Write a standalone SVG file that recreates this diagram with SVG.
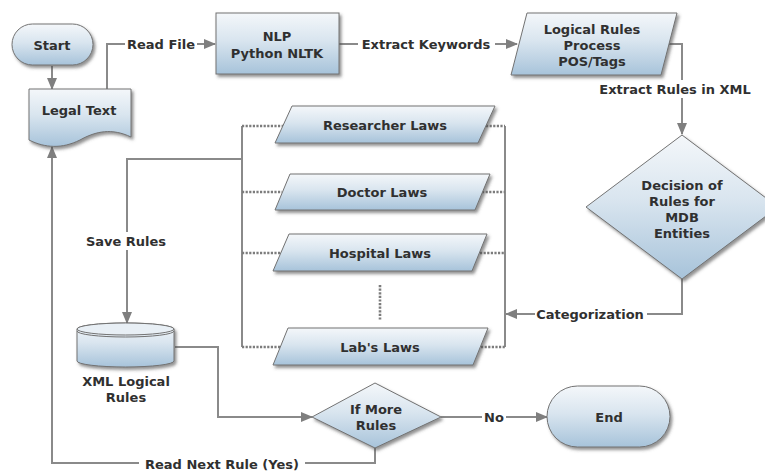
<svg xmlns="http://www.w3.org/2000/svg" width="765" height="474" viewBox="0 0 765 474">
  <defs>
    <linearGradient id="fillGrad" x1="0" y1="0" x2="0" y2="1">
      <stop offset="0" stop-color="#f4f7fa"/>
      <stop offset="0.45" stop-color="#d9e5ef"/>
      <stop offset="1" stop-color="#a7c3da"/>
    </linearGradient>
    <filter id="shadow" x="-10%" y="-10%" width="125%" height="130%">
      <feDropShadow dx="2" dy="2.5" stdDeviation="1.4" flood-color="#4a4a4a" flood-opacity="0.6"/>
    </filter>
    <marker id="arrow" markerWidth="12" markerHeight="10" refX="11" refY="5" orient="auto" markerUnits="userSpaceOnUse">
      <path d="M0,0 L12,5 L0,10 Z" fill="#7f7f7f"/>
    </marker>
    <style>
      .shape { fill: url(#fillGrad); stroke: #727272; stroke-width: 1; filter: url(#shadow); }
      .label { font-family: "DejaVu Sans", Verdana, sans-serif; font-weight: bold; font-size: 13px; fill: #303030; text-anchor: middle; dominant-baseline: central; }
      .bg { fill: #ffffff; }
      .conn { fill: none; stroke: #8a8a8a; stroke-width: 2; }
      .dots { fill: none; stroke: #7c7c7c; stroke-width: 2.6; stroke-dasharray: 2.2 1.4; }
    </style>
  </defs>

  <rect width="765" height="474" fill="#ffffff"/>

  <!-- connectors -->
  <g id="connectors">
    <path class="conn" d="M52,66 V89" marker-end="url(#arrow)"/>
    <path class="conn" d="M107,89 V44 H215" marker-end="url(#arrow)"/>
    <path class="conn" d="M339,44 H517" marker-end="url(#arrow)"/>
    <path class="conn" d="M669,44 H682 V134" marker-end="url(#arrow)"/>
    <path class="conn" d="M682,279 V314 H506" marker-end="url(#arrow)"/>
    <path class="conn" d="M242,159 H127 V323" marker-end="url(#arrow)"/>
    <path class="conn" d="M175,347 H218 V417 H312" marker-end="url(#arrow)"/>
    <path class="conn" d="M441,417 H547" marker-end="url(#arrow)"/>
    <path class="conn" d="M375,448 V463 H52 V147" marker-end="url(#arrow)"/>

    <!-- category bracket -->
    <path class="conn" d="M242,126 V347"/>
    <path class="conn" d="M505,126 V347"/>
    <path class="dots" d="M242,126 H284"/>
    <path class="dots" d="M242,192 H282"/>
    <path class="dots" d="M242,253 H281"/>
    <path class="dots" d="M242,347 H280"/>
    <path class="dots" d="M486,126 H505"/>
    <path class="dots" d="M482,192 H505"/>
    <path class="dots" d="M480,253 H505"/>
    <path class="dots" d="M481,347 H505"/>
    <path class="dots" d="M380,285 V321"/>

    <!-- edge labels on white backing -->
    <rect class="bg" x="125" y="35" width="72" height="18"/>
    <text class="label" x="161" y="44">Read File</text>
    <rect class="bg" x="358" y="35" width="137" height="18"/>
    <text class="label" x="426" y="44">Extract Keywords</text>
    <rect class="bg" x="592" y="80" width="166" height="18"/>
    <text class="label" x="675" y="89">Extract Rules in XML</text>
    <rect class="bg" x="535" y="305" width="112" height="18"/>
    <text class="label" x="590" y="314">Categorization</text>
    <rect class="bg" x="84" y="232" width="85" height="18"/>
    <text class="label" x="126" y="241">Save Rules</text>
    <rect class="bg" x="482" y="408" width="24" height="18"/>
    <text class="label" x="494" y="417">No</text>
    <rect class="bg" x="139" y="455" width="166" height="18"/>
    <text class="label" x="222" y="464">Read Next Rule (Yes)</text>
  </g>

  <g id="start">
    <rect class="shape" x="12" y="24" width="81" height="41" rx="20.5"/>
    <text class="label" x="52" y="45">Start</text>
  </g>

  <g id="legal-text">
    <path class="shape" d="M29,89 H131 V137 C112,128 96,131 80,140 C62,149 45,148 29,140 Z"/>
    <text class="label" x="79" y="110">Legal Text</text>
  </g>

  <g id="nlp">
    <rect class="shape" x="216" y="13" width="123" height="61"/>
    <text class="label" x="277" y="36">NLP</text>
    <text class="label" x="277" y="53">Python NLTK</text>
  </g>

  <g id="logical-rules">
    <path class="shape" d="M527,13 H677 L661,75 H511 Z"/>
    <text class="label" x="592" y="29">Logical Rules</text>
    <text class="label" x="592" y="45">Process</text>
    <text class="label" x="592" y="61">POS/Tags</text>
  </g>

  <g id="decision">
    <path class="shape" d="M682,135 L778,207 L682,279 L586,207 Z"/>
    <text class="label" x="682" y="185">Decision of</text>
    <text class="label" x="682" y="201">Rules for</text>
    <text class="label" x="682" y="217">MDB</text>
    <text class="label" x="682" y="233">Entities</text>
  </g>

  <g id="researcher-laws">
    <path class="shape" d="M292,106 H495 L478,143 H275 Z"/>
    <text class="label" x="385" y="125">Researcher Laws</text>
  </g>

  <g id="doctor-laws">
    <path class="shape" d="M290,174 H490 L475,210 H275 Z"/>
    <text class="label" x="382" y="192">Doctor Laws</text>
  </g>

  <g id="hospital-laws">
    <path class="shape" d="M289,234 H487 L472,271 H273 Z"/>
    <text class="label" x="380" y="253">Hospital Laws</text>
  </g>

  <g id="labs-laws">
    <path class="shape" d="M288,328 H488 L473,365 H273 Z"/>
    <text class="label" x="380" y="347">Lab's Laws</text>
  </g>

  <g id="xml-logical-rules">
    <path class="shape" d="M77,329 V361 A48.5,6 0 0 0 174,361 V329 A48.5,6 0 0 0 77,329 Z"/>
    <ellipse cx="125.5" cy="329" rx="48.5" ry="6" fill="#e8eff5" stroke="#727272" stroke-width="1"/>
    <path d="M77,331 A48.5,6 0 0 0 174,331" fill="none" stroke="#727272" stroke-width="1"/>
    <text class="label" x="126" y="381">XML Logical</text>
    <text class="label" x="126" y="397">Rules</text>
  </g>

  <g id="if-more-rules">
    <path class="shape" d="M375,383 L441,417 L375,448 L312,417 Z"/>
    <text class="label" x="376" y="409">If More</text>
    <text class="label" x="376" y="425">Rules</text>
  </g>

  <g id="end">
    <rect class="shape" x="547" y="386" width="123" height="61" rx="30.5"/>
    <text class="label" x="609" y="417">End</text>
  </g>
</svg>
